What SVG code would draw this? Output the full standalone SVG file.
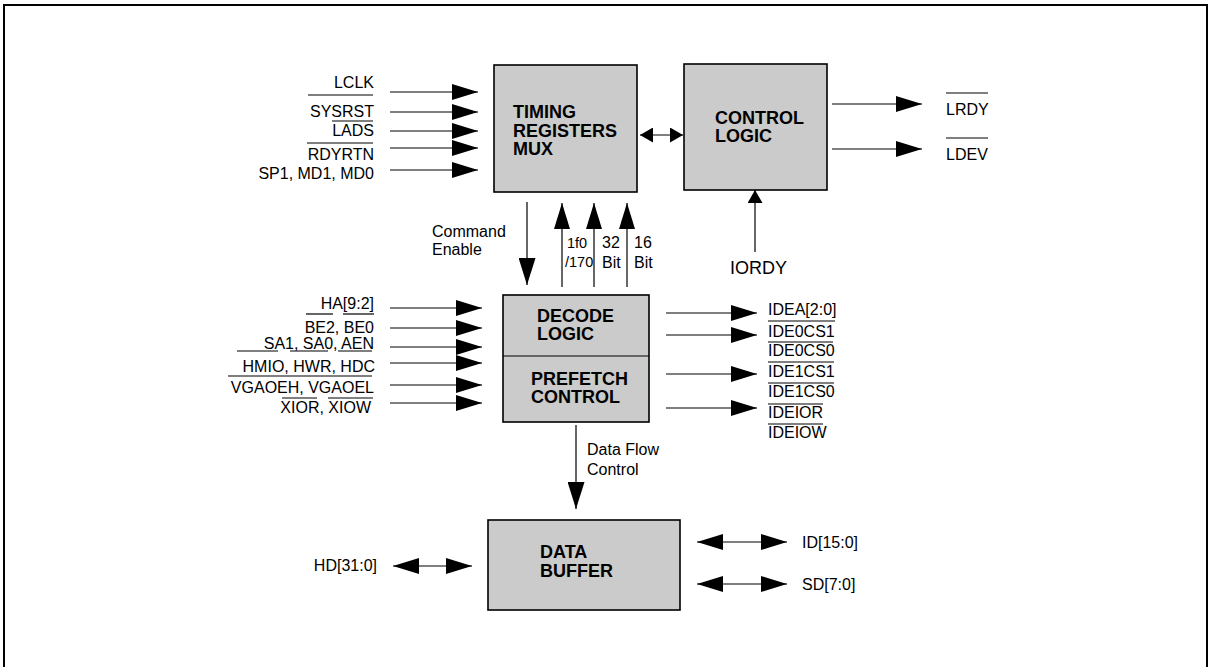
<svg xmlns="http://www.w3.org/2000/svg" width="1211" height="667" viewBox="0 0 1211 667">
<style>
.box{fill:#cbcbcb;stroke:#000;stroke-width:1.6}
.bt{font-family:"Liberation Sans",Arial,sans-serif;font-weight:bold;font-size:18px;fill:#000}
.t{font-family:"Liberation Sans",Arial,sans-serif;font-size:16px;fill:#000}
.ts{font-family:"Liberation Sans",Arial,sans-serif;font-size:14.5px;fill:#000}
.e{text-anchor:end}
.ln{stroke:#000;stroke-width:1.2;fill:none}
.ol{stroke:#000;stroke-width:1.2}
</style>
<defs>
<marker id="a" viewBox="0 0 26 16" refX="26" refY="8" markerWidth="26" markerHeight="16" markerUnits="userSpaceOnUse" orient="auto-start-reverse"><path d="M0,0 L26,8 L0,16 z" fill="#000"/></marker>
<marker id="ab" viewBox="0 0 27 17" refX="27" refY="8.5" markerWidth="27" markerHeight="17" markerUnits="userSpaceOnUse" orient="auto-start-reverse"><path d="M0,0 L27,8.5 L0,17 z" fill="#000"/></marker>
<marker id="as" viewBox="0 0 13 15" refX="13" refY="7.5" markerWidth="13" markerHeight="15" markerUnits="userSpaceOnUse" orient="auto-start-reverse"><path d="M0,0 L13,7.5 L0,15 z" fill="#000"/></marker>
</defs>
<rect x="0" y="0" width="1211" height="667" fill="#fff"/>
<rect x="4" y="5" width="1203" height="700" fill="none" stroke="#000" stroke-width="2"/>

<g id="timing">
<rect class="box" x="494" y="65" width="143" height="127"/>
<text class="bt" x="513" y="118">TIMING</text>
<text class="bt" x="513" y="136.5">REGISTERS</text>
<text class="bt" x="513" y="155">MUX</text>
</g>
<g id="control">
<rect class="box" x="684" y="64" width="143" height="126"/>
<text class="bt" x="715" y="124">CONTROL</text>
<text class="bt" x="715" y="142">LOGIC</text>
</g>
<g id="decode">
<rect class="box" x="503" y="295" width="146" height="127"/>
<line class="ol" x1="503" y1="356" x2="649" y2="356"/>
<text class="bt" x="537" y="322">DECODE</text>
<text class="bt" x="537" y="340">LOGIC</text>
<text class="bt" x="531" y="385">PREFETCH</text>
<text class="bt" x="531" y="403">CONTROL</text>
</g>
<g id="buffer">
<rect class="box" x="488" y="520" width="192" height="90"/>
<text class="bt" x="540" y="558">DATA</text>
<text class="bt" x="540" y="577">BUFFER</text>
</g>

<g id="connectors">
<path class="ln" d="M390,92 H478" marker-end="url(#a)"/>
<path class="ln" d="M390,112 H478" marker-end="url(#a)"/>
<path class="ln" d="M390,131 H478" marker-end="url(#a)"/>
<path class="ln" d="M390,148 H478" marker-end="url(#a)"/>
<path class="ln" d="M390,170 H478" marker-end="url(#a)"/>
<path class="ln" d="M640,135 H683" marker-start="url(#as)" marker-end="url(#as)"/>
<path class="ln" d="M832,104 H922" marker-end="url(#a)"/>
<path class="ln" d="M832,149 H922" marker-end="url(#a)"/>
<path class="ln" d="M755,252 V190" marker-end="url(#as)"/>
<path class="ln" d="M527,202 V285" marker-end="url(#ab)"/>
<path class="ln" d="M562,287 V203" marker-end="url(#a)"/>
<path class="ln" d="M594,287 V203" marker-end="url(#a)"/>
<path class="ln" d="M627,287 V203" marker-end="url(#a)"/>
<path class="ln" d="M390,308 H482" marker-end="url(#a)"/>
<path class="ln" d="M390,328 H482" marker-end="url(#a)"/>
<path class="ln" d="M390,347 H482" marker-end="url(#a)"/>
<path class="ln" d="M390,363 H482" marker-end="url(#a)"/>
<path class="ln" d="M390,385 H482" marker-end="url(#a)"/>
<path class="ln" d="M390,403 H482" marker-end="url(#a)"/>
<path class="ln" d="M666,313 H757" marker-end="url(#a)"/>
<path class="ln" d="M666,335 H757" marker-end="url(#a)"/>
<path class="ln" d="M666,374 H757" marker-end="url(#a)"/>
<path class="ln" d="M666,408 H757" marker-end="url(#a)"/>
<path class="ln" d="M576,425 V509" marker-end="url(#ab)"/>
<path class="ln" d="M393,566 H472" marker-start="url(#a)" marker-end="url(#a)"/>
<path class="ln" d="M697,542 H787" marker-start="url(#a)" marker-end="url(#a)"/>
<path class="ln" d="M697,584 H787" marker-start="url(#a)" marker-end="url(#a)"/>
</g>

<g id="labels">
<text class="t e" x="374" y="88">LCLK</text>
<text class="t e" x="374" y="117">SYSRST</text>
<text class="t e" x="374" y="136">LADS</text>
<text class="t e" x="374" y="160">RDYRTN</text>
<text class="t e" x="374" y="179">SP1, MD1, MD0</text>
<line class="ol" x1="308" y1="95" x2="373" y2="95"/>
<line class="ol" x1="332" y1="121" x2="373" y2="121"/>
<line class="ol" x1="307" y1="143" x2="373" y2="143"/>

<text class="t" x="946" y="115">LRDY</text>
<text class="t" x="946" y="160">LDEV</text>
<line class="ol" x1="946" y1="93" x2="988" y2="93"/>
<line class="ol" x1="946" y1="138" x2="988" y2="138"/>

<text class="t" x="730" y="274" style="font-size:18px">IORDY</text>

<text class="t" x="432" y="237">Command</text>
<text class="t" x="432" y="255">Enable</text>
<text class="ts" x="567" y="248">1f0</text>
<text class="ts" x="565" y="267">/170</text>
<text class="t" x="602" y="248">32</text>
<text class="t" x="602" y="268">Bit</text>
<text class="t" x="634" y="248">16</text>
<text class="t" x="634" y="268">Bit</text>

<text class="t e" x="374" y="309">HA[9:2]</text>
<text class="t e" x="374" y="333">BE2, BE0</text>
<text class="t e" x="374" y="349">SA1, SA0, AEN</text>
<text class="t e" x="375" y="372">HMIO, HWR, HDC</text>
<text class="t e" x="374" y="393">VGAOEH, VGAOEL</text>
<text class="t e" x="371" y="413">XIOR, XIOW</text>
<line class="ol" x1="306" y1="314" x2="333" y2="314"/>
<line class="ol" x1="343" y1="314" x2="374" y2="314"/>
<line class="ol" x1="237" y1="351" x2="278" y2="351"/>
<line class="ol" x1="290" y1="351" x2="328" y2="351"/>
<line class="ol" x1="338" y1="351" x2="372" y2="351"/>
<line class="ol" x1="228" y1="376" x2="372" y2="376"/>
<line class="ol" x1="282" y1="398" x2="317" y2="398"/>
<line class="ol" x1="328" y1="398" x2="373" y2="398"/>

<text class="t" x="768" y="315">IDEA[2:0]</text>
<text class="t" x="768" y="337">IDE0CS1</text>
<text class="t" x="768" y="356">IDE0CS0</text>
<text class="t" x="768" y="377">IDE1CS1</text>
<text class="t" x="768" y="397">IDE1CS0</text>
<text class="t" x="768" y="418">IDEIOR</text>
<text class="t" x="768" y="438">IDEIOW</text>
<line class="ol" x1="768" y1="321" x2="835" y2="321"/>
<line class="ol" x1="768" y1="342" x2="833" y2="342"/>
<line class="ol" x1="768" y1="362" x2="834" y2="362"/>
<line class="ol" x1="768" y1="383" x2="834" y2="383"/>
<line class="ol" x1="768" y1="404" x2="823" y2="404"/>
<line class="ol" x1="768" y1="424" x2="823" y2="424"/>

<text class="t" x="587" y="455">Data Flow</text>
<text class="t" x="587" y="475">Control</text>

<text class="t e" x="377" y="571">HD[31:0]</text>
<text class="t" x="802" y="548">ID[15:0]</text>
<text class="t" x="802" y="590">SD[7:0]</text>
</g>
</svg>
